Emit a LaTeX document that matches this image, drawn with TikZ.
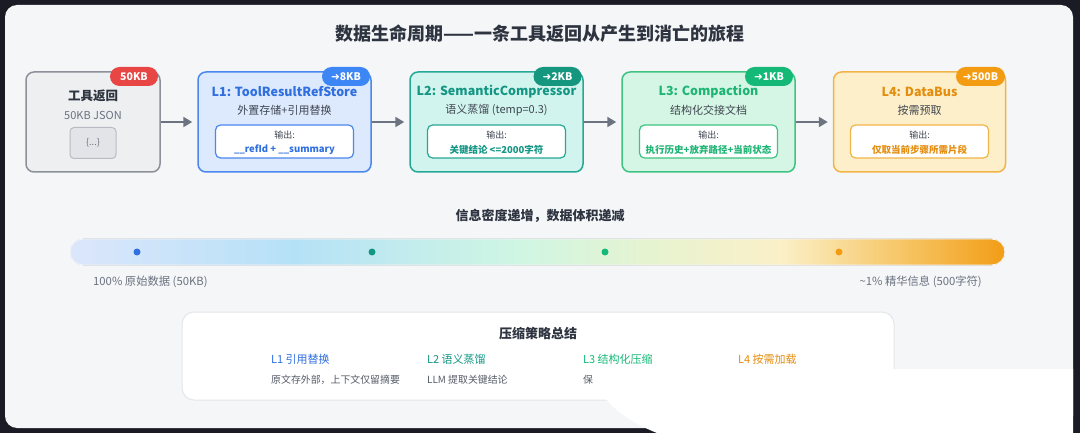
\documentclass[tikz,border=0pt]{standalone}
\usepackage{fontspec}
\setmainfont{Noto Sans CJK SC}
\newfontfamily\symfont{DejaVu Sans}
\usetikzlibrary{arrows.meta}
\newcommand\myfs[1]{\fontsize{#1}{#1}\selectfont}
\definecolor{frame}{HTML}{1B1B26}
\definecolor{panel}{HTML}{F5F6F8}
\definecolor{ink}{HTML}{2D3440}
\definecolor{sub}{HTML}{3F4651}
\definecolor{grey}{HTML}{6B7280}
\definecolor{arrowc}{HTML}{6B7280}
\definecolor{c0fill}{HTML}{EEEFF1}
\definecolor{c0line}{HTML}{8B9099}
\definecolor{c0in}{HTML}{E2E4E7}
\definecolor{c0inl}{HTML}{B8BCC2}
\definecolor{redB}{HTML}{E84545}
\definecolor{c1fill}{HTML}{DDE9FD}
\definecolor{c1line}{HTML}{4A87EF}
\definecolor{c1txt}{HTML}{2F6FE0}
\definecolor{c1b}{HTML}{3D86F5}
\definecolor{c2fill}{HTML}{D2F4EE}
\definecolor{c2line}{HTML}{25A895}
\definecolor{c2txt}{HTML}{139683}
\definecolor{c2b}{HTML}{14967F}
\definecolor{c3fill}{HTML}{D5F6E4}
\definecolor{c3line}{HTML}{3FC282}
\definecolor{c3txt}{HTML}{1DB574}
\definecolor{c3b}{HTML}{14B877}
\definecolor{c4fill}{HTML}{FDEFC9}
\definecolor{c4line}{HTML}{F2B449}
\definecolor{c4txt}{HTML}{E48D0E}
\definecolor{c4b}{HTML}{F39C12}
\definecolor{gA}{HTML}{DCE6FB}
\definecolor{gB}{HTML}{B5E1F7}
\definecolor{gC}{HTML}{CFF6E3}
\definecolor{gD}{HTML}{E6F3D0}
\definecolor{gE}{HTML}{FBF0C8}
\definecolor{gF}{HTML}{F6C25E}
\definecolor{gG}{HTML}{F29D16}
\definecolor{sumline}{HTML}{E3E6EB}
\definecolor{desc}{HTML}{555B66}
\pgfdeclarehorizontalshading{densbar}{100bp}{color(0bp)=(gA); color(25bp)=(gA); color(37bp)=(gB); color(49bp)=(gC); color(56bp)=(gD); color(63bp)=(gE); color(70bp)=(gF); color(75bp)=(gG); color(100bp)=(gG)}
\tikzset{
  stage/.style={draw, line width=1.5pt, rounded corners=8pt, minimum width=173pt, minimum height=100pt, inner sep=0pt},
  badge/.style={rectangle, rounded corners=9.5pt, minimum height=19pt, minimum width=48pt, inner sep=0pt, text=white, font=\myfs{10.5}\bfseries},
  ttl/.style={inner sep=0pt, font=\myfs{12.5}\bfseries},
  subt/.style={inner sep=0pt, text=sub, font=\myfs{11}},
  inbox/.style={draw, fill=white, line width=1.2pt, rounded corners=5pt, minimum width=138pt, minimum height=33pt, inner sep=0pt},
  outl/.style={inner sep=0pt, text=sub, font=\myfs{9}},
  outv/.style={inner sep=0pt, font=\myfs{9.5}\bfseries},
  flow/.style={draw=arrowc, line width=2pt, -{Triangle[length=9pt,width=10pt]}, shorten >=5pt},
  dot/.style={circle, inner sep=0pt, minimum size=7pt},
  lbl/.style={inner sep=0pt, text=grey, font=\myfs{11.3}},
  coltitle/.style={inner sep=0pt, anchor=west, font=\myfs{11}},
  coldesc/.style={inner sep=0pt, anchor=west, text=desc, font=\myfs{9.9}},
}
\begin{document}
\begin{tikzpicture}[x=1pt,y=-1pt]
\useasboundingbox (0,0) rectangle (1080,433);
\fill[frame] (0,0) rectangle (1080,433);
\fill[panel, rounded corners=12pt] (5,5) rectangle (1073,428);
% title
\node[inner sep=0pt, text=ink, font=\myfs{18}\bfseries] (title) at (540,34) {数据生命周期——一条工具返回从产生到消亡的旅程};
% source box
\node[stage, fill=c0fill, draw=c0line, minimum width=134pt] (src) at (93,122) {};
\node[ttl, text=ink] (srct) at (93,96) {工具返回};
\node[inner sep=0pt, text=grey, font=\myfs{11}] (srcs) at (93,115) {50KB JSON};
\node[draw=c0inl, fill=c0in, line width=1pt, rounded corners=4pt, minimum width=46pt, minimum height=31pt, inner sep=0pt, text=grey, font=\myfs{9}] (srcin) at (93,143) {\{...\}};
\node[badge, fill=redB] (b0) at (134,76.5) {50KB};
% L1
\node[stage, fill=c1fill, draw=c1line] (l1) at (284.5,122) {};
\node[ttl, text=c1txt] (l1t) at (284.5,92) {L1: ToolResultRefStore};
\node[subt] (l1s) at (284.5,110) {外置存储+引用替换};
\node[inbox, draw=c1line] (l1in) at (284.5,141.5) {};
\node[outl] (l1o) at (284.5,135) {输出:};
\node[outv, text=c1txt] (l1v) at (284.5,149.5) {\_\_refId + \_\_summary};
\node[badge, fill=c1b] (b1) at (346,76.5) {{\symfont\bfseries ➜}8KB};
% L2
\node[stage, fill=c2fill, draw=c2line] (l2) at (496.5,122) {};
\node[ttl, text=c2txt] (l2t) at (496.5,92) {L2: SemanticCompressor};
\node[subt] (l2s) at (496.5,110) {语义蒸馏 (temp=0.3)};
\node[inbox, draw=c2line] (l2in) at (496.5,141.5) {};
\node[outl] (l2o) at (496.5,135) {输出:};
\node[outv, text=c2txt] (l2v) at (496.5,149.5) {关键结论 <=2000字符};
\node[badge, fill=c2b] (b2) at (557.5,76.5) {{\symfont\bfseries ➜}2KB};
% L3
\node[stage, fill=c3fill, draw=c3line] (l3) at (708.5,122) {};
\node[ttl, text=c3txt] (l3t) at (708.5,92) {L3: Compaction};
\node[subt] (l3s) at (708.5,110) {结构化交接文档};
\node[inbox, draw=c3line] (l3in) at (708.5,141.5) {};
\node[outl] (l3o) at (708.5,135) {输出:};
\node[outv, text=c3txt] (l3v) at (708.5,149.5) {执行历史+放弃路径+当前状态};
\node[badge, fill=c3b] (b3) at (769,76.5) {{\symfont\bfseries ➜}1KB};
% L4
\node[stage, fill=c4fill, draw=c4line, minimum width=172pt] (l4) at (919.5,122) {};
\node[ttl, text=c4txt] (l4t) at (919.5,92) {L4: DataBus};
\node[subt] (l4s) at (919.5,110) {按需预取};
\node[inbox, draw=c4line] (l4in) at (919.5,141.5) {};
\node[outl] (l4o) at (919.5,135) {输出:};
\node[outv, text=c4txt] (l4v) at (919.5,149.5) {仅取当前步骤所需片段};
\node[badge, fill=c4b, minimum width=49pt] (b4) at (980.5,76.5) {{\symfont\bfseries ➜}500B};
% arrows
\draw[flow] (src.east) -- (l1.west);
\draw[flow] (l1.east) -- (l2.west);
\draw[flow] (l2.east) -- (l3.west);
\draw[flow] (l3.east) -- (l4.west);
% density
\node[inner sep=0pt, text=ink, font=\myfs{13}\bfseries] (dens) at (540,216) {信息密度递增，数据体积递减};
\fill[shading=densbar, rounded corners=13pt] (70,239) rectangle (1005,265);
\draw[panel, line width=0.9pt, rounded corners=13pt] (70,239) rectangle (1005,265);
\node[dot, fill=c1txt] (d1) at (137,252) {};
\node[dot, fill=c2txt] (d2) at (372,252) {};
\node[dot, fill=c3b] (d3) at (605,252) {};
\node[dot, fill=c4b] (d4) at (839,252) {};
\node[lbl, anchor=west] (lleft) at (93,282) {100\% 原始数据 (50KB)};
\node[lbl, anchor=east] (lright) at (982,282) {\textasciitilde1\% 精华信息 (500字符)};
% summary
\node[draw=sumline, fill=white, line width=1pt, rounded corners=12pt, minimum width=712pt, minimum height=88pt, inner sep=0pt] (sum) at (538,356) {};
\node[inner sep=0pt, text=ink, font=\myfs{13}\bfseries] (sumt) at (538,334) {压缩策略总结};
\node[coltitle, text=c1txt] (s1) at (271,359) {L1 引用替换};
\node[coltitle, text=c2txt] (s2) at (427,359) {L2 语义蒸馏};
\node[coltitle, text=c3b] (s3) at (583,359) {L3 结构化压缩};
\node[coltitle, text=c4txt] (s4) at (738,359) {L4 按需加载};
\node[coldesc] (s1d) at (271,380) {原文存外部，上下文仅留摘要};
\node[coldesc] (s2d) at (427,380) {LLM 提取关键结论};
\node[coldesc] (s3d) at (583,380) {保};
% white overlay at bottom right
\fill[white] (594,369) .. controls (596,400) and (625,420) .. (657,433) -- (1073,433) -- (1073,369) -- cycle;
\end{tikzpicture}
\end{document}
